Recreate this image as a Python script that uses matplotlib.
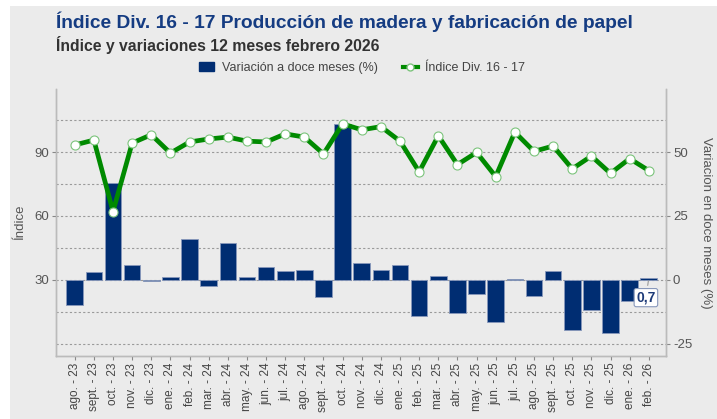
import matplotlib
matplotlib.use("Agg")
import matplotlib.pyplot as plt
from matplotlib.patches import Patch, Rectangle
from matplotlib.lines import Line2D
import numpy as np

plt.rcParams['font.family'] = ['Liberation Sans', 'DejaVu Sans']

categories = ["ago. - 23", "sept. - 23", "oct. - 23", "nov. - 23", "dic. - 23",
              "ene. - 24", "feb. - 24", "mar. - 24", "abr. - 24", "may. - 24",
              "jun. - 24", "jul. - 24", "ago. - 24", "sept. - 24", "oct. - 24",
              "nov. - 24", "dic. - 24", "ene. - 25", "feb. - 25", "mar. - 25",
              "abr. - 25", "may. - 25", "jun. - 25", "jul. - 25", "ago. - 25",
              "sept. - 25", "oct. - 25", "nov. - 25", "dic. - 25", "ene. - 26",
              "feb. - 26"]

indice = [93.3, 95.6, 62.1, 94.2, 98.1, 89.5, 94.7, 96.1, 97.0, 95.1,
          94.7, 98.5, 97.0, 89.1, 103.2, 100.4, 101.9, 95.1, 80.7, 97.6,
          84.1, 89.8, 78.5, 99.3, 90.3, 92.8, 82.1, 88.1, 80.0, 86.9, 81.3]

variacion = [-9.8, 3.0, 37.8, 6.0, -0.4, 1.0, 16.1, -2.2, 14.3, 1.0,
             5.1, 3.5, 3.8, -6.5, 60.9, 6.5, 3.8, 5.9, -14.1, 1.4,
             -12.8, -5.5, -16.4, 0.4, -6.4, 3.4, -19.7, -11.7, -20.7, -8.2, 0.7]

title = "Índice Div. 16 - 17 Producción de madera y fabricación de papel"
subtitle = "Índice y variaciones 12 meses febrero 2026"

navy = "#002D72"
green = "#008A00"
bg = "#EBEBEB"

fig = plt.figure(figsize=(7.17, 4.19), dpi=100, facecolor="white")
fig.patches.append(Rectangle((10/717, 0), 1, 1 - 6/419, transform=fig.transFigure,
                             facecolor=bg, edgecolor="none", zorder=-10))

ax = fig.add_axes([56/717, 1 - 355.7/419, (666 - 56)/717, (355.7 - 89.3)/419])
ax2 = ax.twinx()
ax.set_zorder(ax2.get_zorder() + 1)
ax.patch.set_visible(False)
ax2.patch.set_visible(False)

x = np.arange(len(categories))
lo, hi = -5.5, 119.4
ax.set_ylim(lo, hi)
ax2.set_ylim((lo - 30) * 5 / 6, (hi - 30) * 5 / 6)
ax.set_xlim(-0.98, 30.9)

for g in np.arange(0, 106, 15):
    ax2.axhline((g - 30) * 5 / 6, color="#9a9a9a", lw=0.8, ls=(0, (2, 2)), zorder=0)

ax2.bar(x, variacion, width=0.87, color=navy, edgecolor="#8898bb", linewidth=0.6, zorder=2)
ax.plot(x, indice, color=green, lw=3.4, marker="o", markersize=6.5,
        markerfacecolor="white", markeredgecolor="#7cc47c", markeredgewidth=0.8, zorder=3)

ax2.annotate("0,7", xy=(x[-1], variacion[-1]), xytext=(x[-1] - 0.15, -6.9),
             ha="center", va="center", fontsize=10, fontweight="bold", color="#1d3a78",
             bbox=dict(boxstyle="round,pad=0.15", fc="white", ec="#8898bb", lw=0.8),
             arrowprops=dict(arrowstyle="-", color="#999999", lw=0.8), zorder=5)

ax.set_xticks(x)
ax.set_xticklabels(categories, rotation=90, fontsize=8.5, color="#444444")
ax.set_yticks([30, 60, 90])
ax.set_yticklabels(["30", "60", "90"], fontsize=9.5, color="#555555")
ax2.set_yticks([-25, 0, 25, 50])
ax2.set_yticklabels(["-25", "0", "25", "50"], fontsize=9.5, color="#555555")
for a in (ax, ax2):
    a.tick_params(axis="both", length=3, color="#888888", width=0.8, pad=2)
    a.spines["top"].set_visible(False)
    for s in ("left", "right", "bottom"):
        a.spines[s].set_color("#bbbbbb")
        a.spines[s].set_linewidth(1)

ax.set_ylabel("Índice", fontsize=9.5, color="#555555", labelpad=6)
ax2.set_ylabel("Variacion en doce meses (%)", fontsize=9.5, color="#555555",
               rotation=270, labelpad=14)

fig.text(56/717, 1 - 22/419, title, fontsize=13.8, fontweight="bold", color="#153c82",
         ha="left", va="center")
fig.text(56/717, 1 - 45/419, subtitle, fontsize=11.3, fontweight="bold", color="#333333",
         ha="left", va="center")

handles = [Patch(facecolor=navy, edgecolor=navy),
           Line2D([0], [0], color=green, lw=3, marker="o", markersize=5,
                  markerfacecolor="white", markeredgecolor="#7cc47c")]
fig.legend(handles, ["Variación a doce meses (%)", "Índice Div. 16 - 17"],
           loc="center", bbox_to_anchor=(0.505, 1 - 68/419), ncol=2, frameon=False,
           fontsize=9, handlelength=1.2, columnspacing=2.0, handletextpad=0.6,
           labelcolor="#444444")

fig.savefig("out.png", dpi=100, facecolor=fig.get_facecolor())
